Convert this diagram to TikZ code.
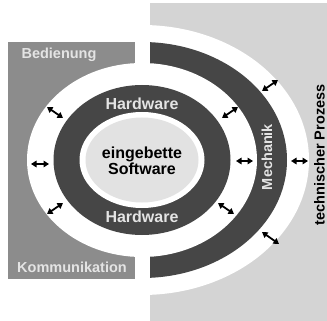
\documentclass[tikz,border=0pt]{standalone}
\usepackage{fontspec}
\setmainfont{Liberation Sans}
\usetikzlibrary{arrows.meta}
\definecolor{darkband}{HTML}{464646}
\definecolor{midbox}{HTML}{8C8C8C}
\definecolor{procgray}{HTML}{D4D4D4}
\definecolor{softfill}{HTML}{E2E2E2}
\definecolor{paletext}{HTML}{E4E4E4}
\tikzset{
  lbl/.style={font=\bfseries\fontsize{14.5}{16}\selectfont, inner sep=0pt},
  hwlbl/.style={font=\bfseries\fontsize{16}{16}\selectfont, inner sep=0pt, text=paletext},
  link/.style={line width=1.8pt, {Triangle[length=5.5pt,width=6.5pt]}-{Triangle[length=5.5pt,width=6.5pt]}}
}
\begin{document}
\begin{tikzpicture}[x=1pt,y=-1pt]
\useasboundingbox (0,0) rectangle (327,321);
% process area on the right
\fill[procgray] (150,3) rectangle (327,321);
\begin{scope}
  \clip (150,0) rectangle (327,321);
  \fill[white] (142,160) ellipse [x radius=167pt, y radius=135pt];
  \fill[darkband] (142,160) ellipse [x radius=145pt, y radius=118pt];
\end{scope}
% user interface block on the left
\fill[midbox] (8,42) rectangle (135,279);
% nested rings
\fill[white] (142,160) ellipse [x radius=115pt, y radius=97pt];
\fill[darkband] (142,160) ellipse [x radius=88.5pt, y radius=75pt];
\fill[white] (142,160) ellipse [x radius=62.5pt, y radius=48pt];
\fill[softfill] (142,160) ellipse [x radius=56.5pt, y radius=42.5pt];
% labels
\node[lbl, text=paletext] (bed) at (59,55) {Bedienung};
\node[lbl, text=paletext] (kom) at (72,267) {Kommunikation};
\node[hwlbl] (hwtop) at (142,104) {Hardware};
\node[hwlbl] (hwbot) at (142,217) {Hardware};
\node[font=\bfseries\fontsize{16}{16.5}\selectfont, align=center, inner sep=0pt] (sw) at (142,161) {eingebette\\Software};
\node[lbl, text=paletext, rotate=90] (mech) at (267,157) {Mechanik};
\node[lbl, rotate=90] (proc) at (319.5,155) {technischer Prozess};
% interaction arrows
\coordinate (a1s) at (47,107); \coordinate (a1e) at (63,118);
\coordinate (a2s) at (31,164); \coordinate (a2e) at (49,164);
\coordinate (a3s) at (47,214); \coordinate (a3e) at (63,203);
\coordinate (a4s) at (222,118); \coordinate (a4e) at (238,107);
\coordinate (a5s) at (236,161); \coordinate (a5e) at (253,161);
\coordinate (a6s) at (218,203); \coordinate (a6e) at (234,214);
\coordinate (a7s) at (262,91); \coordinate (a7e) at (278,80);
\coordinate (a8s) at (291,161); \coordinate (a8e) at (308,161);
\coordinate (a9s) at (262,232); \coordinate (a9e) at (279,244);
\foreach \i in {1,...,9} {\draw[link] (a\i s) -- (a\i e);}
\end{tikzpicture}
\end{document}
